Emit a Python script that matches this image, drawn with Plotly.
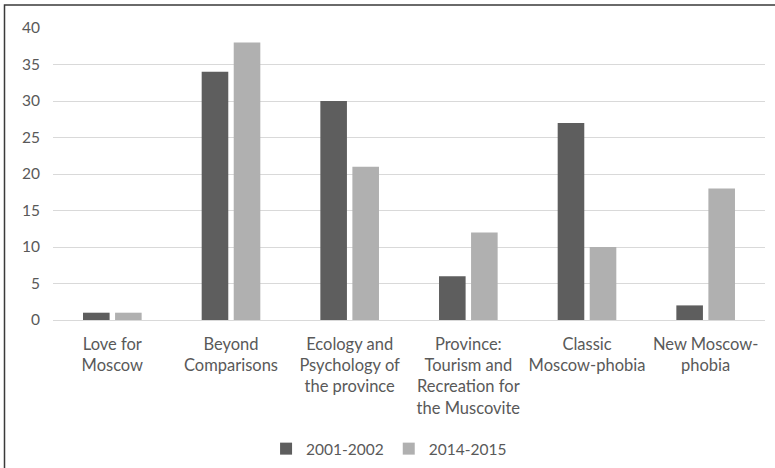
import plotly.graph_objects as go

# Category labels (line breaks as shown under the axis)
categories = [
    "Love for<br>Moscow",
    "Beyond<br>Comparisons",
    "Ecology and<br>Psychology of<br>the province",
    "Province:<br>Tourism and<br>Recreation for<br>the Muscovite",
    "Classic<br>Moscow-phobia",
    "New Moscow-<br>phobia",
]
series_names = ["2001-2002", "2014-2015"]
values_2001_2002 = [1, 34, 30, 6, 27, 2]
values_2014_2015 = [1, 38, 21, 12, 10, 18]
y_ticks = [0, 5, 10, 15, 20, 25, 30, 35, 40]

DARK = "#5e5e5e"
LIGHT = "#b0b0b0"
TEXT = "#595959"
GRID = "#d9d9d9"
FONT = "Lato, Open Sans, sans-serif"

W, H = 775, 468
ML, MR, MT, MB = 53, 10, 28, 148

fig = go.Figure()
fig.add_trace(go.Bar(x=categories, y=values_2001_2002, name=series_names[0],
                     marker=dict(color=DARK, line=dict(width=0))))
fig.add_trace(go.Bar(x=categories, y=values_2014_2015, name=series_names[1],
                     marker=dict(color=LIGHT, line=dict(width=0))))

# outer frame of the chart area (left and top edges visible)
pw = W - ML - MR
ph = H - MT - MB
fx0 = (4.5 - ML) / pw
fy1 = (H - MB - 5) / ph
fig.add_shape(type="rect", xref="paper", yref="paper",
              x0=fx0, x1=1.2, y0=-1.0, y1=fy1,
              line=dict(color="#3a3a3a", width=1.5), fillcolor="rgba(0,0,0,0)",
              layer="below")

fig.update_layout(
    width=W, height=H,
    margin=dict(l=ML, r=MR, t=MT, b=MB, autoexpand=False),
    paper_bgcolor="white", plot_bgcolor="white",
    barmode="group", bargap=0.46, bargroupgap=0.17,
    font=dict(family=FONT, size=16.5, color=TEXT),
    showlegend=True,
    legend=dict(orientation="h", x=0.472, xanchor="center", y=-0.442, yanchor="middle",
                font=dict(family=FONT, size=15.5, color=TEXT),
                traceorder="normal"),
    xaxis=dict(showgrid=False, showline=False, ticks="", tickangle=0,
               automargin=False, ticklabelstandoff=12,
               tickfont=dict(family=FONT, size=16.5, color=TEXT)),
    yaxis=dict(range=[0, 40], tickvals=y_ticks, showgrid=True, gridcolor=GRID,
               gridwidth=1, zeroline=True, zerolinecolor=GRID, zerolinewidth=1,
               showline=False, ticks="", ticklabelstandoff=12, automargin=False,
               tickfont=dict(family=FONT, size=15.5, color=TEXT)),
)

fig.write_html("out.html")
